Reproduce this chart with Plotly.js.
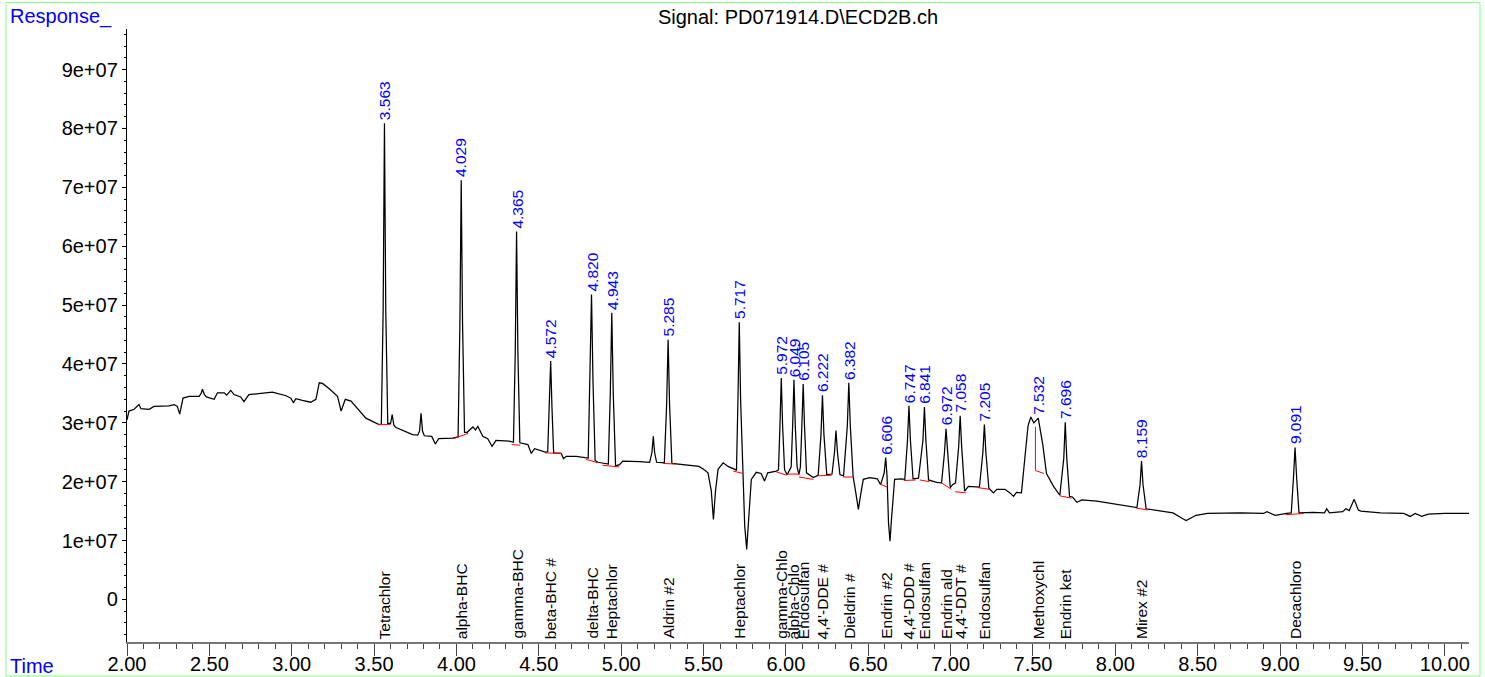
<!DOCTYPE html>
<html>
<head>
<meta charset="utf-8">
<script src="https://cdn.plot.ly/plotly-3.0.1.min.js"></script>
<style>html,body{margin:0;padding:0;background:#fff;}#chart{width:1485px;height:677px;}</style>
</head>
<body>
<div id="chart"></div>
<script>
// Signal trace: retention time (min) and response (in units of 1e7)
const traceTime = [
2.000,2.012,2.043,2.073,2.085,2.134,2.164,2.255,2.286,2.305,2.320,2.340,2.377,2.438,2.450,2.458,2.470,2.482,2.529,2.549,
2.590,2.605,2.630,2.650,2.690,2.710,2.740,2.800,2.883,2.965,2.995,3.010,3.025,3.065,3.115,3.147,3.167,3.187,3.228,3.278,
3.300,3.325,3.360,3.450,3.530,3.544,3.555,3.563,3.571,3.583,3.600,3.610,3.620,3.633,3.734,3.765,3.776,3.785,3.794,3.805,
3.850,3.872,3.892,3.977,4.010,4.021,4.029,4.037,4.049,4.065,4.100,4.115,4.130,4.160,4.190,4.216,4.240,4.320,4.346,4.357,
4.365,4.373,4.385,4.434,4.454,4.474,4.545,4.554,4.564,4.572,4.580,4.590,4.636,4.650,4.666,4.727,4.800,4.811,4.820,4.829,
4.842,4.859,4.890,4.922,4.934,4.943,4.952,4.966,4.990,5.010,5.112,5.173,5.187,5.195,5.203,5.215,5.262,5.276,5.285,5.294,
5.308,5.335,5.472,5.500,5.527,5.547,5.560,5.573,5.588,5.619,5.649,5.690,5.700,5.709,5.717,5.725,5.737,5.750,5.762,5.773,
5.790,5.820,5.850,5.870,5.890,5.943,5.955,5.964,5.972,5.980,5.992,6.008,6.032,6.041,6.049,6.057,6.068,6.079,6.088,6.097,
6.105,6.113,6.125,6.166,6.196,6.213,6.222,6.231,6.248,6.280,6.295,6.304,6.313,6.328,6.350,6.373,6.382,6.391,6.408,6.425,
6.440,6.455,6.470,6.510,6.555,6.575,6.597,6.606,6.614,6.623,6.632,6.642,6.660,6.700,6.722,6.738,6.747,6.756,6.772,6.805,
6.832,6.841,6.850,6.866,6.915,6.945,6.963,6.972,6.981,6.998,7.012,7.030,7.049,7.058,7.067,7.085,7.108,7.175,7.196,7.205,
7.214,7.232,7.260,7.280,7.330,7.360,7.382,7.400,7.430,7.453,7.470,7.487,7.505,7.532,7.545,7.560,7.582,7.625,7.663,7.687,
7.696,7.705,7.722,7.740,7.767,7.797,7.888,8.050,8.131,8.150,8.159,8.168,8.187,8.280,8.350,8.410,8.430,8.490,8.560,8.760,
8.900,8.920,8.970,9.040,9.068,9.081,9.091,9.101,9.115,9.200,9.270,9.283,9.300,9.380,9.400,9.420,9.450,9.475,9.490,9.610,
9.750,9.790,9.820,9.860,9.900,10.000,10.148
];
const responseE7 = [
3.05,3.20,3.23,3.31,3.24,3.23,3.28,3.29,3.31,3.28,3.15,3.42,3.45,3.45,3.50,3.57,3.48,3.44,3.40,3.51,
3.51,3.47,3.55,3.48,3.44,3.36,3.48,3.50,3.52,3.46,3.42,3.34,3.41,3.38,3.35,3.40,3.68,3.67,3.58,3.45,
3.20,3.40,3.37,3.08,2.97,2.98,4.90,8.09,4.90,2.99,2.99,3.14,2.96,2.92,2.80,2.79,2.86,3.16,2.86,2.78,
2.77,2.64,2.73,2.74,2.76,4.70,7.12,4.70,2.84,2.84,2.93,2.88,2.94,2.77,2.73,2.60,2.70,2.69,2.67,4.20,
6.25,4.20,2.66,2.63,2.48,2.56,2.50,2.51,3.25,4.05,3.25,2.49,2.48,2.39,2.43,2.43,2.40,3.70,5.18,3.70,
2.36,2.33,2.32,2.30,3.50,4.87,3.50,2.27,2.29,2.35,2.34,2.33,2.50,2.77,2.50,2.33,2.32,3.30,4.41,3.30,
2.31,2.30,2.26,2.21,2.15,1.85,1.36,1.85,2.21,2.32,2.26,2.21,2.19,3.40,4.71,3.40,2.15,1.25,0.85,1.30,
2.04,2.16,2.14,2.01,2.15,2.18,2.20,2.95,3.76,2.95,2.20,2.12,2.25,2.95,3.73,2.95,2.25,2.12,2.25,2.95,
3.66,2.95,2.15,2.07,2.11,2.80,3.47,2.80,2.12,2.13,2.50,2.87,2.50,2.12,2.10,2.95,3.68,2.95,2.09,1.80,
1.53,1.80,2.04,2.07,2.05,1.95,2.15,2.41,2.10,1.30,0.99,1.40,2.04,2.05,2.04,2.70,3.29,2.70,2.05,2.06,
2.70,3.27,2.70,2.03,1.99,1.98,2.50,2.90,2.50,1.90,1.95,1.98,2.60,3.12,2.60,1.84,1.92,1.91,2.50,2.97,
2.50,1.89,1.81,1.87,1.87,1.81,1.75,1.82,1.81,2.43,2.95,3.10,3.00,3.08,2.85,2.62,2.14,1.92,1.77,2.40,
3.01,2.40,1.75,1.74,1.65,1.69,1.67,1.60,1.56,1.95,2.35,1.95,1.54,1.50,1.47,1.37,1.34,1.43,1.46,1.47,
1.46,1.49,1.43,1.46,1.47,2.05,2.58,2.05,1.47,1.48,1.47,1.54,1.47,1.49,1.54,1.51,1.70,1.52,1.50,1.47,
1.46,1.41,1.46,1.41,1.45,1.46,1.46
];

// Integration baselines (red): start/end time and response (1e7)
const baseStartT = [3.525,3.980,4.335,4.537,4.786,4.887,5.255,5.680,5.939,6.008,6.079,6.196,6.347,6.570,6.716,6.813,6.945,7.026,7.163,7.515,7.515,7.663,8.128,9.035];
const baseStartR = [2.97,2.73,2.63,2.49,2.38,2.28,2.31,2.18,2.17,2.13,2.08,2.10,2.08,1.96,2.02,2.03,1.98,1.83,1.90,2.93,2.19,1.76,1.55,1.44];
const baseEndT   = [3.600,4.071,4.387,4.638,4.860,4.988,5.326,5.740,6.004,6.079,6.166,6.277,6.412,6.614,6.789,6.870,7.005,7.092,7.238,7.515,7.566,7.734,8.199,9.144];
const baseEndR   = [2.97,2.82,2.62,2.48,2.32,2.25,2.30,2.14,2.11,2.13,2.04,2.11,2.08,1.91,2.03,2.00,1.87,1.81,1.87,2.19,2.14,1.72,1.52,1.46];

// Identified peaks
const peakRT = [3.563,4.029,4.365,4.572,4.820,4.943,5.285,5.717,5.972,6.049,6.105,6.222,6.382,6.606,6.747,6.841,6.972,7.058,7.205,7.532,7.696,8.159,9.091];
const peakLabels = ['3.563','4.029','4.365','4.572','4.820','4.943','5.285','5.717','5.972','6.049','6.105','6.222','6.382','6.606','6.747','6.841','6.972','7.058','7.205','7.532','7.696','8.159','9.091'];
const peakApexE7 = [8.09,7.12,6.25,4.05,5.18,4.87,4.41,4.71,3.76,3.73,3.66,3.47,3.68,2.41,3.29,3.27,2.90,3.12,2.97,3.08,3.01,2.35,2.58];
const compoundNames = ['Tetrachlor','alpha-BHC','gamma-BHC','beta-BHC #','delta-BHC','Heptachlor','Aldrin #2','Heptachlor','gamma-Chlo','alpha-Chlo','Endosulfan',"4,4'-DDE #",'Dieldrin #','Endrin #2',"4,4'-DDD #",'Endosulfan','Endrin ald',"4,4'-DDT #",'Endosulfan','Methoxychl','Endrin ket','Mirex #2','Decachloro'];

// Y tick labels
const yTickVals = [0,1e7,2e7,3e7,4e7,5e7,6e7,7e7,8e7,9e7];
const yTickText = ['0','1e+07','2e+07','3e+07','4e+07','5e+07','6e+07','7e+07','8e+07','9e+07'];

const E7 = 1e7;
const FONT = 'Liberation Sans, Arial, Helvetica, sans-serif';

const signal = {
  x: traceTime,
  y: responseE7.map(v => v * E7),
  type: 'scatter', mode: 'lines',
  line: {color: '#000000', width: 1.25},
  hoverinfo: 'x+y', showlegend: false
};

const bx = [], by = [];
for (let i = 0; i < baseStartT.length; i++) {
  bx.push(baseStartT[i], baseEndT[i], null);
  by.push(baseStartR[i] * E7, baseEndR[i] * E7, null);
}
const baselines = {
  x: bx, y: by, type: 'scatter', mode: 'lines',
  line: {color: '#ff0000', width: 1}, hoverinfo: 'skip', showlegend: false
};

const annotations = [];
for (let i = 0; i < peakRT.length; i++) {
  annotations.push({
    x: peakRT[i], y: peakApexE7[i] * E7, xref: 'x', yref: 'y',
    text: peakLabels[i], textangle: -90, showarrow: false,
    xanchor: 'center', yanchor: 'bottom', yshift: 1,
    font: {family: FONT, size: 15.5, color: '#0000ff'}
  });
  annotations.push({
    x: peakRT[i], y: 0, xref: 'x', yref: 'paper',
    text: compoundNames[i], textangle: -90, showarrow: false,
    xanchor: 'center', yanchor: 'bottom', yshift: 1,
    font: {family: FONT, size: 15.5, color: '#000000'}
  });
}
annotations.push({
  x: -0.0887, y: 1.0212, xref: 'paper', yref: 'paper', text: 'Response_',
  showarrow: false, xanchor: 'left', yanchor: 'middle',
  font: {family: FONT, size: 20, color: '#0000ff'}
});
annotations.push({
  x: -0.0887, y: -0.0390, xref: 'paper', yref: 'paper', text: 'Time',
  showarrow: false, xanchor: 'left', yanchor: 'middle',
  font: {family: FONT, size: 20, color: '#0000ff'}
});

const layout = {
  width: 1485, height: 677,
  margin: {l: 127, r: 16, t: 29, b: 35, pad: 0},
  paper_bgcolor: '#ffffff', plot_bgcolor: '#ffffff',
  font: {family: FONT, size: 20, color: '#000000'},
  title: {
    text: 'Signal: PD071914.D\\ECD2B.ch',
    x: 0.5, xref: 'paper', xanchor: 'center',
    y: 0.975, yref: 'container', yanchor: 'middle',
    font: {family: FONT, size: 20, color: '#000000'}
  },
  xaxis: {
    range: [2.0, 10.147], tick0: 2, dtick: 0.5, tickformat: '.2f',
    ticks: 'outside', ticklen: 12, tickwidth: 1, tickcolor: '#444',
    ticklabelstandoff: -9,
    showline: true, linecolor: '#777', linewidth: 1.5,
    showgrid: false, zeroline: false,
    minor: {tick0: 2, dtick: 0.1, ticks: 'outside', ticklen: 5, tickcolor: '#444', showgrid: false},
    tickfont: {family: FONT, size: 20, color: '#000'}
  },
  yaxis: {
    range: [-0.723e7, 9.69e7], tickmode: 'array', tickvals: yTickVals, ticktext: yTickText,
    ticks: 'outside', ticklen: 4, tickwidth: 1, tickcolor: '#000',
    showline: true, linecolor: '#000', linewidth: 1.2,
    showgrid: false, zeroline: false,
    minor: {tickmode: 'linear', tick0: 0, dtick: 2e6, ticks: 'outside', ticklen: 2, tickcolor: '#000', showgrid: false},
    tickfont: {family: FONT, size: 20, color: '#000'}
  },
  annotations: annotations,
  shapes: [{
    type: 'rect', xref: 'paper', yref: 'paper',
    x0: -0.0902, x1: 1.0082, y0: -0.0555, y1: 1.0433,
    line: {color: '#80ff80', width: 1}, fillcolor: 'rgba(0,0,0,0)', layer: 'below'
  }]
};

Plotly.newPlot('chart', [signal, baselines], layout, {staticPlot: true, displayModeBar: false});
</script>
</body>
</html>
